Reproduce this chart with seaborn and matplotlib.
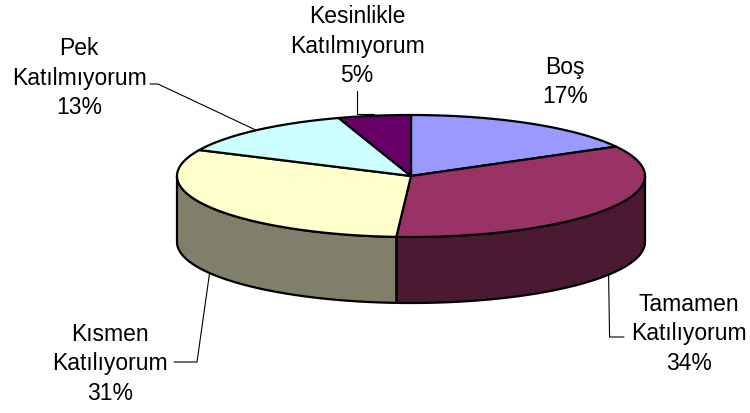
import numpy as np
import matplotlib
matplotlib.use("Agg")
import matplotlib.pyplot as plt
import seaborn as sns

# Survey answers and their shares (percent)
categories = ["Boş", "Tamamen\nKatılıyorum", "Kısmen\nKatılıyorum",
              "Pek\nKatılmıyorum", "Kesinlikle\nKatılmıyorum"]
values = [17, 34, 31, 13, 5]

# Colours of the top faces and of the darker rims
top_colors = ["#9999FF", "#993366", "#FFFFCC", "#CCFFFF", "#660066"]
side_colors = ["#4C4C80", "#4C1933", "#80806A", "#668080", "#330033"]

sns.set_theme(style="white")
plt.rcParams["font.family"] = ["Liberation Sans", "DejaVu Sans"]

fig = plt.figure(figsize=(7.5, 4.14), dpi=100)
ax = fig.add_axes([0, 0, 1, 1])
ax.set_xlim(0, 750)
ax.set_ylim(414, 0)
ax.axis("off")

# Ellipse geometry of the tilted pie (pixel-like units)
cx, cy, rx, ry, depth = 411, 177, 234, 61, 66


def rim(t):
    t = np.radians(t)
    return cx + rx * np.cos(t), cy - ry * np.sin(t)


# Slice angles: start at 12 o'clock, go clockwise
fracs = np.array(values, dtype=float) / sum(values)
ends = 90 - 360 * np.cumsum(fracs)
starts = np.concatenate([[90], ends[:-1]])

# Rims: only the front half (angles between -180 and 0) is visible
for a0, a1, col in zip(starts, ends, side_colors):
    for shift in (0, -360, 360):
        lo = max(min(a0, a1) + shift, -180)
        hi = min(max(a0, a1) + shift, 0)
        if hi <= lo:
            continue
        t = np.linspace(lo, hi, 120)
        x, y = rim(t)
        px = np.concatenate([x, x[::-1]])
        py = np.concatenate([y, (y + depth)[::-1]])
        ax.fill(px, py, facecolor=col, edgecolor="black", linewidth=1.6,
                joinstyle="round", zorder=2)

# Top faces
for a0, a1, col in zip(starts, ends, top_colors):
    t = np.linspace(a0, a1, 200)
    x, y = rim(t)
    px = np.concatenate([[cx], x, [cx]])
    py = np.concatenate([[cy], y, [cy]])
    ax.fill(px, py, facecolor=col, edgecolor="black", linewidth=1.6,
            joinstyle="round", zorder=3)

# Label block centres and leader lines
label_pos = [(565, 82), (689, 334), (110, 364), (79, 78), (357, 46)]
mids = (starts + ends) / 2


def leader(points):
    xs, ys = zip(*points)
    ax.plot(xs, ys, color="black", linewidth=0.8, zorder=1)


for i, (cat, val) in enumerate(zip(categories, values)):
    lx, ly = label_pos[i]
    ax.text(lx, ly, f"{cat}\n{val}%", ha="center", va="center",
            multialignment="center", fontsize=16.5, linespacing=1.38,
            color="black", zorder=5)

# Tamamen Katılıyorum
mx, my = rim(mids[1])
leader([(mx, my + depth), (mx + 1, 338), (624, 338)])
# Kısmen Katılıyorum
mx, my = rim(mids[2])
leader([(mx, my + depth), (197, 363), (174, 363)])
# Pek Katılmıyorum
mx, my = rim(mids[3])
leader([(mx, my), (158, 85), (150, 85)])
# Kesinlikle Katılmıyorum
mx, my = rim(mids[4])
leader([(mx, my - 2), (357, my - 2), (357, 92)])

fig.savefig("out.png", dpi=100)
